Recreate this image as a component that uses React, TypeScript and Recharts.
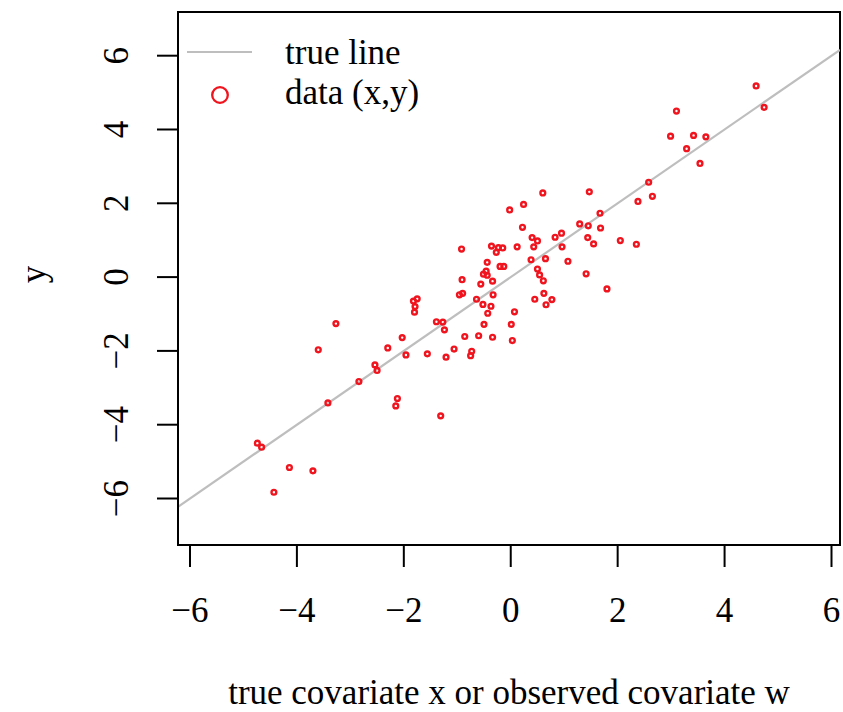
import React from "react";
import {
  ScatterChart,
  Scatter,
  XAxis,
  YAxis,
  ReferenceLine,
  ReferenceArea,
  Legend,
} from "recharts";

// ---- data ----
const xValues = [
  3.10, 4.74, 4.59, 2.99, 3.42, 3.65, 3.29, 3.54, 2.58, 2.38,
  2.65, 1.47, 0.60, -0.02, 0.24, 1.67, 0.22, 1.29, 1.45, 1.68,
  0.40, 0.50, 0.43, 0.83, 0.95, 0.96, 1.44, 1.55, 2.05, 2.35,
  0.12, -0.36, -0.23, -0.15, -0.27, 0.38, 0.65, 1.07, -0.20, -0.13,
  0.50, 0.54, 0.61, 1.41, 1.80, -0.34, -0.33, 0.45, 0.62, 0.77,
  0.66, -0.37, 0.07, 0.01, -0.34, 0.03, -0.56, -0.96, -0.90, -0.64,
  -0.52, -0.43, -1.82, -1.75, -1.79, -1.80, -3.27, -3.60, -1.39, -1.27,
  -1.24, -0.50, -0.86, -0.60, -2.03, -2.30, -1.96, -1.56, -1.06, -1.21,
  -0.73, -0.75, -2.54, -2.50, -2.84, -3.42, -2.12, -2.15, -1.31, -4.74,
  -4.66, -4.14, -3.70, -4.43, -0.92, -0.44, -0.51, -0.44, -0.46, -0.91,
];
const yValues = [
  4.50, 4.60, 5.18, 3.82, 3.84, 3.80, 3.48, 3.08, 2.57, 2.05,
  2.19, 2.31, 2.28, 1.82, 1.97, 1.73, 1.35, 1.44, 1.39, 1.33,
  1.07, 0.98, 0.82, 1.08, 1.19, 0.82, 1.07, 0.90, 0.99, 0.89,
  0.82, 0.84, 0.80, 0.79, 0.67, 0.47, 0.50, 0.43, 0.29, 0.29,
  0.22, 0.06, -0.10, 0.09, -0.32, -0.11, -0.48, -0.60, -0.44, -0.61,
  -0.75, -0.79, -0.94, -1.28, -1.63, -1.72, -0.19, -0.48, -0.44, -0.60,
  -0.74, -0.98, -0.65, -0.59, -0.80, -0.95, -1.26, -1.97, -1.21, -1.22,
  -1.43, -1.28, -1.61, -1.59, -1.64, -1.92, -2.11, -2.08, -1.95, -2.17,
  -2.01, -2.13, -2.38, -2.53, -2.83, -3.41, -3.29, -3.49, -3.76, -4.50,
  -4.61, -5.16, -5.25, -5.83, 0.76, 0.40, 0.08, 0.05, 0.16, -0.07,
];
const xTicks = [-6, -4, -2, 0, 2, 4, 6];
const yTicks = [-6, -4, -2, 0, 2, 4, 6];
const trueIntercept = 0;
const trueSlope = 1;
const legendLabels = ["true line", "data (x,y)"];
const xTitle = "true covariate x or observed covariate w";
const yTitle = "y";

// ---- config ----
const X_MIN = -6.224;
const X_MAX = 6.159;
const Y_MIN = -7.26;
const Y_MAX = 7.184;
const FONT = '"Liberation Serif", "Times New Roman", Times, serif';
const FS = 35;
const RED = "#F0141E";
const GRAY = "#BEBEBE";

const points = xValues.map((x, i) => ({ x, y: yValues[i] }));
const fmt = (v: number) => (v < 0 ? "\u2212" + Math.abs(v) : String(v));

const XTick = (props: any) => {
  const { x, y, payload } = props;
  return (
    <text x={x} y={y + 55} textAnchor="middle" fontFamily={FONT} fontSize={FS} fill="#000">
      {fmt(payload.value)}
    </text>
  );
};

const YTick = (props: any) => {
  const { x, y, payload } = props;
  const bx = x - 29;
  return (
    <text
      x={bx}
      y={y}
      transform={`rotate(-90, ${bx}, ${y})`}
      textAnchor="middle"
      fontFamily={FONT}
      fontSize={FS}
      fill="#000"
    >
      {fmt(payload.value)}
    </text>
  );
};

const XTitle = (props: any) => {
  const vb = props.viewBox;
  return (
    <text
      x={vb.x + vb.width / 2}
      y={vb.y + 159}
      textAnchor="middle"
      fontFamily={FONT}
      fontSize={FS}
      fill="#000"
    >
      {xTitle}
    </text>
  );
};

const YTitle = (props: any) => {
  const vb = props.viewBox;
  const bx = 45;
  const cy = vb.y + vb.height / 2 - 4;
  return (
    <text
      x={bx}
      y={cy}
      transform={`rotate(-90, ${bx}, ${cy})`}
      textAnchor="middle"
      fontFamily={FONT}
      fontSize={FS}
      fill="#000"
    >
      {yTitle}
    </text>
  );
};

const PointShape = (props: any) => (
  <circle cx={props.cx} cy={props.cy} r={2.4} fill="none" stroke={RED} strokeWidth={2.4} />
);

const LegendContent = () => (
  <svg width={320} height={120} style={{ overflow: "visible" }}>
    <line x1={9} y1={40} x2={74} y2={40} stroke={GRAY} strokeWidth={2.2} />
    <text x={107} y={52} fontFamily={FONT} fontSize={FS} fill="#000">
      {legendLabels[0]}
    </text>
    <circle cx={42} cy={83} r={7.8} fill="none" stroke={RED} strokeWidth={2.3} />
    <text x={107} y={92} fontFamily={FONT} fontSize={FS} fill="#000">
      {legendLabels[1]}
    </text>
  </svg>
);

export default function App() {
  const lineSegment = [
    { x: X_MIN, y: trueIntercept + trueSlope * X_MIN },
    { x: X_MAX, y: trueIntercept + trueSlope * X_MAX },
  ];
  return (
    <div style={{ position: "absolute", left: 0, top: 0, width: 843, height: 712 }}>
      <ScatterChart
        width={843}
        height={712}
        margin={{ top: 12, right: 3, bottom: 0, left: 0 }}
      >
        <XAxis
          type="number"
          dataKey="x"
          domain={[X_MIN, X_MAX]}
          ticks={xTicks}
          allowDataOverflow
          height={167}
          tickSize={22}
          tickMargin={0}
          tick={<XTick />}
          tickLine={{ stroke: "#000", strokeWidth: 2 }}
          axisLine={{ stroke: "#000", strokeWidth: 2 }}
          label={<XTitle />}
          interval={0}
        />
        <YAxis
          type="number"
          dataKey="y"
          domain={[Y_MIN, Y_MAX]}
          ticks={yTicks}
          allowDataOverflow
          width={178}
          tickSize={21}
          tickMargin={0}
          tick={<YTick />}
          tickLine={{ stroke: "#000", strokeWidth: 2 }}
          axisLine={{ stroke: "#000", strokeWidth: 2 }}
          label={<YTitle />}
          interval={0}
        />
        <ReferenceArea
          x1={X_MIN}
          x2={X_MAX}
          y1={Y_MIN}
          y2={Y_MAX}
          fill="none"
          fillOpacity={0}
          stroke="#000"
          strokeWidth={2}
          ifOverflow="visible"
        />
        <ReferenceLine
          segment={lineSegment}
          stroke={GRAY}
          strokeWidth={2.2}
          ifOverflow="hidden"
        />
        <Scatter
          data={points}
          shape={<PointShape />}
          isAnimationActive={false}
          legendType="none"
        />
        <Legend
          layout="vertical"
          align="center"
          verticalAlign="middle"
          content={<LegendContent />}
          wrapperStyle={{ position: "absolute", left: 178, top: 12, width: 320, height: 120 }}
        />
      </ScatterChart>
    </div>
  );
}
